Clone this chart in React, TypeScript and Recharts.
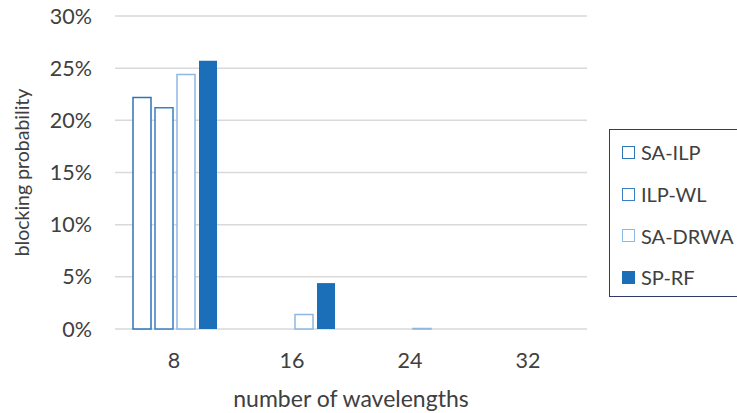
import React from 'react';
import { BarChart, Bar, XAxis, YAxis, CartesianGrid, Legend } from 'recharts';

const categories = ['8', '16', '24', '32'];
const saIlp = [22.2, 0, 0, 0];
const ilpWl = [21.2, 0, 0, 0];
const saDrwa = [24.4, 1.4, 0.05, 0];
const spRf = [25.7, 4.4, 0, 0];
const yTicks = [0, 5, 10, 15, 20, 25, 30];

const seriesNames = ['SA-ILP', 'ILP-WL', 'SA-DRWA', 'SP-RF'];

const series = [
  { key: 'saIlp', name: seriesNames[0], stroke: '#2E75B6', fill: '#FFFFFF' },
  { key: 'ilpWl', name: seriesNames[1], stroke: '#3A7FC4', fill: '#FFFFFF' },
  { key: 'saDrwa', name: seriesNames[2], stroke: '#8DB8E3', fill: '#FFFFFF' },
  { key: 'spRf', name: seriesNames[3], stroke: 'none', fill: '#1B6EB8' },
];

const data = categories.map((c, i) => ({
  cat: c,
  saIlp: saIlp[i],
  ilpWl: ilpWl[i],
  saDrwa: saDrwa[i],
  spRf: spRf[i],
}));

const FONT = 'Lato, "Liberation Sans", sans-serif';
const TEXT = '#404040';

function LegendBox() {
  return (
    <div style={{ paddingTop: 1.5, fontFamily: FONT, fontSize: 20, color: TEXT }}>
      {series.map(s => (
        <div key={s.key} style={{ height: 41.7, display: 'flex', alignItems: 'center', paddingLeft: 12 }}>
          <span
            style={{
              display: 'inline-block',
              boxSizing: 'border-box',
              width: 13,
              height: 13,
              border: s.stroke === 'none' ? 'none' : `1.5px solid ${s.stroke}`,
              background: s.fill,
              marginRight: 6,
            }}
          />
          <span style={{ whiteSpace: 'nowrap' }}>{s.name}</span>
        </div>
      ))}
    </div>
  );
}

export default function App() {
  return (
    <div style={{ position: 'fixed', left: 0, top: 0, width: 737, height: 413, overflow: 'hidden', background: '#fff' }}>
      <BarChart
        width={737}
        height={413}
        data={data}
        margin={{ top: 16, right: 150, bottom: 0, left: 0 }}
        barCategoryGap={18}
        barGap={4}
      >
        <CartesianGrid vertical={false} stroke="#D9D9D9" strokeWidth={1.5} />
        <XAxis
          dataKey="cat"
          height={84}
          axisLine={false}
          tickLine={false}
          tickMargin={18}
          tick={{ fill: TEXT, fontSize: 21.5, fontFamily: FONT }}
          label={{ value: 'number of wavelengths', position: 'insideBottom', offset: 6, fill: TEXT, fontSize: 23, fontFamily: FONT }}
        />
        <YAxis
          width={115}
          domain={[0, 30]}
          ticks={yTicks}
          interval={0}
          axisLine={false}
          tickLine={false}
          tickMargin={17}
          tickFormatter={(v: number) => `${v}%`}
          tick={{ fill: TEXT, fontSize: 21.5, fontFamily: FONT }}
          label={{
            value: 'blocking probability',
            angle: -90,
            position: 'insideLeft',
            offset: 22,
            fill: TEXT,
            fontSize: 19.5,
            fontFamily: FONT,
            style: { textAnchor: 'middle' },
          }}
        />
        <Legend
          layout="vertical"
          align="center"
          verticalAlign="middle"
          content={() => <LegendBox />}
          wrapperStyle={{
            left: 609,
            top: 129,
            width: 200,
            minWidth: 200,
            height: 168,
            boxSizing: 'border-box',
            border: '1.5px solid #2F3B68',
            background: '#fff',
          }}
        />
        {series.map(s => (
          <Bar
            key={s.key}
            dataKey={s.key}
            name={s.name}
            fill={s.fill}
            stroke={s.stroke}
            strokeWidth={1.5}
            isAnimationActive={false}
          />
        ))}
      </BarChart>
    </div>
  );
}
